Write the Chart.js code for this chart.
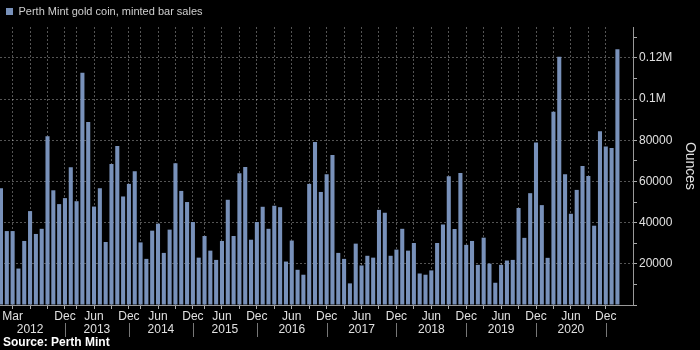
<!DOCTYPE html>
<html>
<head>
<meta charset="utf-8">
<script src="https://cdn.jsdelivr.net/npm/chart.js@4/dist/chart.umd.min.js"></script>
<style>
  html, body { margin: 0; padding: 0; background: #000; }
  #wrap { width: 700px; height: 350px; position: relative; }
</style>
</head>
<body>
<div id="wrap"><canvas id="mintChart"></canvas></div>
<script>
// monthly sales, ounces (one bar per reported month, early years skip a month)
const sales = [
  56700, 35900, 35900, 17700, 31100, 45600, 34500, 37000, 82000, 55700,
  49000, 51900, 66900, 50400, 112800, 88900, 47800, 56700, 30600, 68500,
  77200, 52700, 58800, 64900, 30400, 22400, 36100, 39500, 25300, 36600,
  68800, 55400, 50000, 40300, 23000, 33500, 26400, 21900, 31100, 51100,
  33500, 64000, 67000, 31700, 40300, 47700, 37000, 48200, 47500, 21100,
  31300, 17100, 14700, 58800, 79200, 54900, 63500, 72800, 25300, 22400,
  10500, 29800, 19200, 23900, 23000, 46200, 44800, 23900, 26900, 37000,
  26400, 30100, 15300, 14700, 16800, 30100, 39100, 62500, 36900, 64100,
  29200, 31100, 19500, 32700, 20100, 10800, 19500, 21600, 21900, 47100,
  32600, 54300, 78900, 48500, 22900, 93900, 120600, 63500, 44300, 55900,
  67500, 62700, 38500, 84400, 77000, 76200, 124200
];

// quarter grid positions (bar index)
const quarterIdx = [2, 5, 8, 11, 13, 16, 19, 22, 24, 27, 30, 33, 35, 38, 41, 44,
  47, 50, 53, 56, 59, 62, 65, 68, 71, 74, 77, 80, 83, 86, 89, 92, 95, 98, 101, 104];

const monthTickIdx = [2, 11, 16, 22, 27, 33, 38, 44, 50, 56, 62, 68, 74, 80, 86, 92, 98, 104];
const monthTickText = ['Mar', 'Dec', 'Jun', 'Dec', 'Jun', 'Dec', 'Jun', 'Dec', 'Jun',
  'Dec', 'Jun', 'Dec', 'Jun', 'Dec', 'Jun', 'Dec', 'Jun', 'Dec'];

const years = ['2012', '2013', '2014', '2015', '2016', '2017', '2018', '2019', '2020'];
const yearMid = [5, 16.5, 27.5, 38.5, 50, 62, 74, 86, 98];
const yearBreaks = [11, 22, 33, 44, 56, 68, 80, 92, 104];

const yTicks = [0, 10000, 20000, 30000, 40000, 50000, 60000, 70000, 80000, 90000,
  100000, 110000, 120000, 130000];

const BAR = '#7891ba';
const GRID = 'rgba(255,255,255,0.33)';
const FONT = '"Liberation Sans", Arial, sans-serif';

const yearRow = {
  id: 'yearRow',
  afterDraw(chart) {
    const ctx = chart.ctx;
    const x = chart.scales.x;
    ctx.save();
    ctx.font = '12px ' + FONT;
    ctx.fillStyle = '#e0e0e0';
    ctx.textAlign = 'center';
    ctx.textBaseline = 'middle';
    years.forEach((y, i) => ctx.fillText(y, x.getPixelForValue(yearMid[i]), 330));
    ctx.strokeStyle = '#777';
    ctx.lineWidth = 1;
    yearBreaks.forEach(b => {
      const px = Math.round(x.getPixelForValue(b)) + 0.5;
      ctx.beginPath();
      ctx.moveTo(px, 323);
      ctx.lineTo(px, 337);
      ctx.stroke();
    });
    ctx.font = 'bold 12px ' + FONT;
    ctx.fillStyle = '#fff';
    ctx.textAlign = 'left';
    ctx.fillText('Source: Perth Mint', 3, 343);
    ctx.restore();
  }
};

new Chart(document.getElementById('mintChart'), {
  type: 'bar',
  data: {
    datasets: [{
      label: 'Perth Mint gold coin, minted bar sales',
      data: sales.map((v, i) => ({ x: i, y: v })),
      backgroundColor: BAR,
      borderWidth: 0,
      categoryPercentage: 1,
      barPercentage: 0.7
    }]
  },
  options: {
    responsive: true,
    maintainAspectRatio: false,
    animation: false,
    layout: { padding: 0 },
    plugins: {
      tooltip: { enabled: false },
      legend: {
        display: true,
        position: 'top',
        align: 'start',
        labels: {
          boxWidth: 7,
          boxHeight: 7,
          padding: 6,
          color: '#cfcfcf',
          font: { family: FONT, size: 11 }
        }
      }
    },
    scales: {
      x: {
        type: 'linear',
        offset: false,
        min: -0.17,
        max: 108.68,
        afterBuildTicks: scale => { scale.ticks = quarterIdx.map(v => ({ value: v })); },
        afterFit: scale => { scale.height = 45; },
        ticks: {
          autoSkip: false,
          maxRotation: 0,
          padding: 0,
          color: '#e0e0e0',
          font: { family: FONT, size: 12 },
          callback: v => {
            const k = monthTickIdx.indexOf(v);
            return k >= 0 ? monthTickText[k] : '';
          }
        },
        grid: {
          offset: false,
          color: GRID,
          tickColor: '#aaa',
          tickLength: 4
        },
        border: { display: true, color: '#999', dash: [2, 2] }
      },
      y: {
        position: 'right',
        min: 0,
        max: 135000,
        afterBuildTicks: scale => { scale.ticks = yTicks.map(v => ({ value: v })); },
        afterFit: scale => { scale.width = 67; },
        ticks: {
          autoSkip: false,
          padding: 2,
          color: '#e0e0e0',
          font: { family: FONT, size: 12 },
          callback: v => {
            if (v === 0 || v % 20000 !== 0) return '';
            return v >= 100000 ? (v / 1e6) + 'M' : String(v);
          }
        },
        grid: {
          color: c => (c.tick && c.tick.value > 0 && c.tick.value % 20000 === 0) ? GRID : 'rgba(0,0,0,0)',
          tickColor: '#aaa',
          tickLength: 4
        },
        border: { display: true, color: '#999', dash: [2, 2] },
        title: {
          display: true,
          text: 'Ounces',
          color: '#e0e0e0',
          padding: { top: 2, bottom: 0 },
          font: { family: FONT, size: 14 }
        }
      }
    }
  },
  plugins: [yearRow]
});
</script>
</body>
</html>
